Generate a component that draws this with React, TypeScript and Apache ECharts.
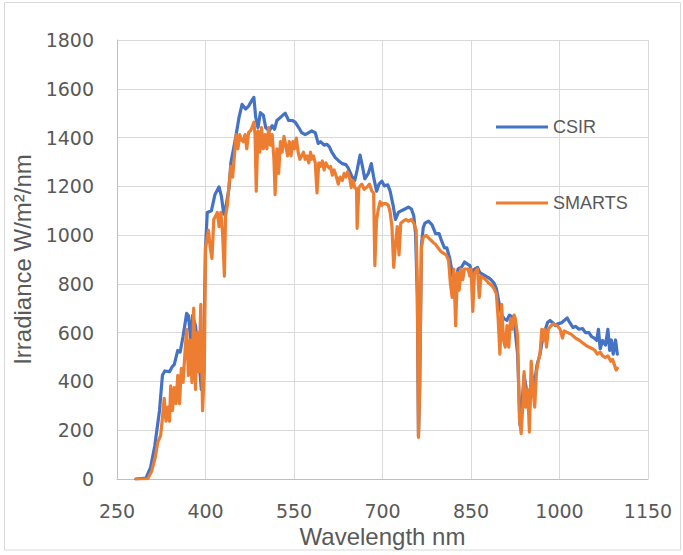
import React, { useEffect, useRef } from "react";
import * as echarts from "echarts";

const xTicks = [250, 400, 550, 700, 850, 1000, 1150];
const yTicks = [0, 200, 400, 600, 800, 1000, 1200, 1400, 1600, 1800];

const csirWavelength = [
  282, 299, 307, 314, 322, 327, 331, 339, 344, 347, 353, 357, 362, 368, 371, 375, 378, 383, 388, 393, 397,
  400, 403, 410, 416, 423, 427, 431, 434, 440, 443, 451, 457, 462, 468, 473, 478, 482, 485, 489, 493, 498,
  502, 508, 513, 517, 521, 528, 535, 541, 547, 552, 558, 563, 569, 575, 580, 586, 591, 595, 601, 606, 610,
  614, 620, 626, 632, 638, 642, 648, 653, 657, 662, 666, 670, 676, 681, 685, 690, 694, 699, 703, 709, 713,
  718, 722, 727, 732, 738, 744, 749, 753, 756, 759, 761, 763, 766, 769, 772, 778, 784, 790, 796, 800, 805,
  809, 814, 819, 824, 828, 834, 839, 843, 848, 852, 856, 861, 865, 870, 875, 880, 884, 889, 893, 898, 902,
  906, 911, 915, 920, 924, 929, 933, 936, 940, 944, 949, 953, 957, 962, 967, 971, 975, 980, 984, 989, 993,
  997, 1003, 1008, 1013, 1017, 1023, 1027, 1033, 1039, 1044, 1050, 1054, 1059, 1063, 1066, 1069, 1073,
  1078, 1082, 1085, 1088, 1091, 1095, 1098,
];
const csirIrradiance = [
  0, 4, 48, 135, 280, 425, 443, 440, 462, 469, 527, 520, 585, 679, 670, 570, 670, 629, 512, 367, 512,
  948, 1093, 1100, 1166, 1198, 1158, 1086, 1108, 1195, 1296, 1398, 1485, 1536, 1517, 1529, 1550, 1565, 1485,
  1441, 1502, 1492, 1441, 1427, 1449, 1434, 1470, 1485, 1500, 1470, 1470, 1463, 1441, 1420, 1412, 1420, 1427,
  1420, 1376, 1383, 1369, 1372, 1362, 1340, 1318, 1304, 1293, 1289, 1275, 1241, 1224, 1267, 1328, 1282, 1231,
  1253, 1293, 1238, 1180, 1209, 1221, 1202, 1206, 1180, 1122, 1064, 1093, 1100, 1107, 1115, 1107, 1079, 1006,
  750, 175, 380, 960, 1030, 1049, 1057, 1042, 1006, 1006, 977, 948, 948, 904, 832, 803, 861, 868, 890, 883,
  875, 846, 861, 868, 846, 839, 832, 825, 817, 803, 781, 716, 672, 658, 650, 672, 665, 629, 512, 222, 295,
  425, 367, 280, 425, 382, 469, 512, 570, 607, 643, 650, 640, 629, 636, 640, 650, 660, 643, 621, 626, 614,
  617, 600, 600, 585, 578, 568, 614, 534, 568, 549, 614, 527, 570, 512, 570, 512,
];

const smartsWavelength = [
  282, 302, 309, 315, 319, 324, 327, 330, 333, 336, 339, 341, 344, 347, 350, 353, 356, 359, 362, 365, 368,
  371, 374, 377, 380, 383, 386, 389, 392, 395, 398, 400, 405, 408, 411, 414, 417, 420, 423, 426, 429, 432,
  434, 437, 440, 443, 446, 449, 452, 455, 458, 461, 464, 467, 470, 473, 476, 479, 482, 484, 486, 489, 492,
  495, 498, 501, 504, 507, 510, 513, 516, 518, 521, 524, 527, 530, 533, 536, 539, 542, 545, 548, 551, 554,
  557, 560, 563, 566, 569, 572, 575, 578, 580, 583, 586, 589, 592, 595, 598, 601, 604, 607, 610, 612, 615,
  618, 622, 625, 628, 632, 635, 638, 641, 644, 647, 650, 653, 656, 657, 660, 665, 669, 673, 678, 682, 685,
  687, 690, 693, 696, 699, 701, 706, 710, 713, 716, 719, 722, 725, 728, 731, 735, 740, 744, 749, 753, 757,
  759, 761, 763, 766, 769, 774, 780, 786, 790, 794, 799, 803, 808, 812, 815, 818, 821, 824, 827, 830, 833,
  836, 839, 842, 845, 848, 850, 853, 856, 861, 864, 867, 871, 875, 880, 884, 889, 893, 896, 899, 902, 905,
  908, 911, 914, 917, 920, 923, 925, 929, 932, 935, 938, 940, 943, 946, 949, 952, 955, 958, 961, 964, 967,
  970, 973, 975, 978, 981, 986, 990, 996, 1001, 1005, 1008, 1014, 1020, 1027, 1033, 1039, 1044, 1050, 1056,
  1060, 1064, 1069, 1073, 1078, 1082, 1087, 1090, 1093, 1096, 1098,
];
const smartsIrradiance = [
  0, 1, 33, 91, 150, 178, 251, 331, 237, 295, 237, 382, 280, 375, 309, 425, 309, 454, 396, 512, 614,
  425, 570, 396, 701, 367, 600, 440, 716, 280, 440, 948, 1020, 948, 904, 1064, 1078, 1093, 1035, 1093, 1006, 832,
  1078, 1122, 1209, 1282, 1238, 1325, 1412, 1354, 1412, 1390, 1383, 1412, 1354, 1420, 1427, 1441, 1463, 1412, 1180, 1427, 1340,
  1441, 1354, 1412, 1354, 1441, 1369, 1412, 1311, 1166, 1354, 1253, 1383, 1340, 1405, 1369, 1325, 1383, 1325, 1383, 1354, 1398,
  1340, 1311, 1325, 1340, 1311, 1325, 1296, 1340, 1311, 1325, 1296, 1173, 1296, 1282, 1304, 1267, 1296, 1282, 1275, 1282, 1246,
  1267, 1238, 1209, 1238, 1224, 1253, 1238, 1260, 1238, 1195, 1224, 1195, 1188, 1028, 1195, 1209, 1188, 1195, 1209, 1180, 1173,
  875, 1064, 1107, 1137, 1122, 1129, 1129, 1122, 1093, 1035, 868, 962, 1035, 919, 1049, 1057, 1064, 1057, 1064, 1049, 1020,
  803, 171, 367, 948, 991, 999, 984, 970, 962, 948, 933, 926, 919, 897, 803, 745, 861, 629, 846, 774, 861,
  817, 861, 861, 861, 832, 861, 687, 846, 861, 745, 832, 825, 817, 803, 796, 781, 759, 658, 512, 716, 570,
  541, 629, 541, 658, 614, 672, 658, 585, 251, 186, 309, 440, 295, 367, 193, 483, 367, 295, 440, 483, 512,
  614, 570, 614, 541, 614, 629, 636, 629, 614, 578, 607, 600, 593, 578, 570, 559, 549, 541, 534,
  527, 512, 520, 505, 498, 505, 483, 490, 469, 447, 454,
];

const zip = (xs: number[], ys: number[]) => xs.map((x, i) => [x, ys[i]]);

const textColor = "#595959";
const font = "Liberation Sans";
const plain = (v: number) => String(v);

export default function App() {
  const ref = useRef<HTMLDivElement>(null);
  useEffect(() => {
    document.body.style.margin = "0";
    const chart = echarts.init(ref.current!, undefined, { renderer: "svg" });
    const legendBase = {
      orient: "vertical",
      icon: "rect",
      itemWidth: 52,
      itemHeight: 3,
      itemGap: 0,
      padding: 0,
      textStyle: { color: textColor, fontSize: 18, fontFamily: font, padding: [0, 0, 0, 0] },
    };
    chart.setOption({
      animation: false,
      backgroundColor: "#ffffff",
      textStyle: { fontFamily: font },
      graphic: [
        {
          type: "rect",
          shape: { x: 4.5, y: 2.5, width: 676, height: 547.5 },
          style: { fill: "none", stroke: "#d9d9d9", lineWidth: 1 },
          silent: true,
        },
      ],
      grid: { left: 117, top: 40, width: 531, height: 439, containLabel: false },
      legend: [
        { ...legendBase, data: ["CSIR"], left: 496, top: 118 },
        { ...legendBase, data: ["SMARTS"], left: 496, top: 194 },
      ],
      xAxis: {
        type: "value",
        min: xTicks[0],
        max: xTicks[xTicks.length - 1],
        interval: 150,
        name: "Wavelength nm",
        nameLocation: "middle",
        nameGap: 42,
        nameTextStyle: { color: textColor, fontSize: 24, fontFamily: font, verticalAlign: "top" },
        axisLine: { show: true, lineStyle: { color: "#bfbfbf", width: 1 } },
        axisTick: { show: false },
        axisLabel: { color: textColor, fontSize: 19, fontFamily: "DejaVu Sans", margin: 22, formatter: plain },
        splitLine: { show: true, lineStyle: { color: "#d9d9d9", width: 1 } },
      },
      yAxis: {
        type: "value",
        min: yTicks[0],
        max: yTicks[yTicks.length - 1],
        interval: 200,
        name: "Irradiance W/m²/nm",
        nameLocation: "middle",
        nameGap: 76,
        nameTextStyle: { color: textColor, fontSize: 24, fontFamily: font },
        axisLine: { show: true, lineStyle: { color: "#bfbfbf", width: 1 } },
        axisTick: { show: false },
        axisLabel: { color: textColor, fontSize: 19, fontFamily: "DejaVu Sans", margin: 23, formatter: plain },
        splitLine: { show: true, lineStyle: { color: "#d9d9d9", width: 1 } },
      },
      series: [
        {
          name: "CSIR",
          type: "line",
          data: zip(csirWavelength, csirIrradiance),
          symbol: "none",
          lineStyle: { color: "#4472C4", width: 3.2, join: "round", cap: "round" },
          itemStyle: { color: "#4472C4" },
          z: 2,
        },
        {
          name: "SMARTS",
          type: "line",
          data: zip(smartsWavelength, smartsIrradiance),
          symbol: "none",
          lineStyle: { color: "#ED7D31", width: 3.2, join: "round", cap: "round" },
          itemStyle: { color: "#ED7D31" },
          z: 3,
        },
      ],
    });
    return () => chart.dispose();
  }, []);
  return <div ref={ref} style={{ width: 683, height: 555 }} />;
}
